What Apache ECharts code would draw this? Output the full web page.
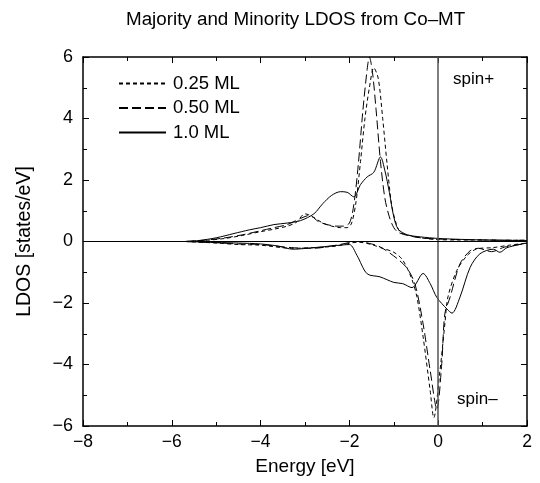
<!DOCTYPE html>
<html>
<head>
<meta charset="utf-8">
<script src="https://cdn.jsdelivr.net/npm/echarts@6/dist/echarts.min.js"></script>
<style>
  html, body { margin: 0; padding: 0; background: #fff; }
  #chart { width: 540px; height: 483px; }
</style>
</head>
<body>
<div id="chart"></div>
<script>
// 能量 (eV) 与 LDOS 数据
const up025 = [
    [-5.7, 0], [-5.2, 0.04], [-4.8, 0.1], [-4.4, 0.2], [-4.0, 0.32], [-3.7, 0.4], [-3.4, 0.5],
    [-3.2, 0.62], [-3.0, 0.9], [-2.8, 0.78], [-2.6, 0.6], [-2.4, 0.5], [-2.2, 0.45], [-2.05, 0.45],
    [-1.95, 0.6], [-1.85, 1.3], [-1.75, 2.6], [-1.65, 4.0], [-1.55, 5.0], [-1.45, 5.65], [-1.35, 5.3],
    [-1.25, 4.0], [-1.15, 2.5], [-1.05, 1.2], [-0.95, 0.6], [-0.85, 0.3], [-0.6, 0.18], [-0.3, 0.1],
    [0, 0.06], [0.5, 0.05], [1.0, 0.05], [1.5, 0.04], [2.0, 0.04]
];
const up050 = [
    [-5.7, 0], [-5.2, 0.05], [-4.8, 0.12], [-4.4, 0.22], [-4.0, 0.35], [-3.7, 0.45], [-3.4, 0.55],
    [-3.1, 0.75], [-2.9, 0.85], [-2.7, 0.65], [-2.5, 0.55], [-2.3, 0.5], [-2.15, 0.5], [-2.0, 0.6],
    [-1.9, 1.2], [-1.8, 2.5], [-1.7, 4.2], [-1.6, 5.6], [-1.55, 6.0], [-1.48, 5.5], [-1.4, 4.3],
    [-1.3, 2.6], [-1.2, 1.4], [-1.1, 0.8], [-1.0, 0.45], [-0.9, 0.3], [-0.7, 0.2], [-0.4, 0.12],
    [0, 0.08], [0.5, 0.06], [1.0, 0.05], [1.5, 0.04], [2.0, 0.04]
];
const up100 = [
    [-5.7, 0], [-5.4, 0.03], [-5.0, 0.12], [-4.6, 0.26], [-4.25, 0.38], [-4.0, 0.45], [-3.7, 0.55],
    [-3.4, 0.6], [-3.1, 0.68], [-2.8, 0.9], [-2.6, 1.23], [-2.4, 1.5], [-2.2, 1.62], [-2.05, 1.6],
    [-1.9, 1.45], [-1.75, 1.85], [-1.6, 2.1], [-1.45, 2.25], [-1.3, 2.75], [-1.2, 2.3], [-1.1, 1.6],
    [-1.0, 0.8], [-0.9, 0.4], [-0.7, 0.22], [-0.4, 0.15], [0, 0.1], [0.5, 0.07], [1.0, 0.05],
    [1.5, 0.04], [2.0, 0.03]
];
const dn025 = [
    [-5.7, 0], [-5.0, -0.05], [-4.5, -0.1], [-4.0, -0.12], [-3.3, -0.22], [-2.8, -0.2], [-2.3, -0.15],
    [-1.8, -0.02], [-1.5, -0.1], [-1.3, -0.2], [-1.0, -0.35], [-0.8, -0.6], [-0.6, -1.2], [-0.48, -1.8],
    [-0.34, -3.1], [-0.18, -4.86], [-0.1, -5.73], [0.04, -4.2], [0.15, -2.68], [0.22, -1.8],
    [0.42, -0.94], [0.65, -0.46], [0.87, -0.24], [1.23, -0.2], [1.6, -0.12], [2.0, -0.05]
];
const dn050 = [
    [-5.7, 0], [-5.0, -0.04], [-4.5, -0.08], [-4.0, -0.1], [-3.3, -0.2], [-2.8, -0.22], [-2.3, -0.12],
    [-1.8, 0], [-1.5, -0.08], [-1.3, -0.18], [-0.93, -0.55], [-0.7, -0.87], [-0.52, -1.4],
    [-0.34, -2.68], [-0.18, -4.2], [-0.03, -5.45], [0.08, -3.97], [0.15, -2.35], [0.27, -1.8],
    [0.49, -0.73], [0.72, -0.3], [0.9, -0.22], [1.2, -0.33], [1.5, -0.18], [2.0, -0.06]
];
const dn100 = [
    [-5.7, 0], [-5.0, -0.03], [-4.5, -0.05], [-4.0, -0.08], [-3.6, -0.15], [-3.27, -0.25], [-2.8, -0.2],
    [-2.3, -0.13], [-2.0, -0.1], [-1.83, -0.45], [-1.6, -1.05], [-1.31, -1.15], [-1.0, -1.33],
    [-0.8, -1.37], [-0.59, -1.5], [-0.34, -1.04], [-0.18, -1.37], [-0.03, -1.82], [0.2, -2.2],
    [0.31, -2.33], [0.49, -1.81], [0.72, -0.84], [0.94, -0.4], [1.24, -0.25], [1.39, -0.35],
    [1.55, -0.2], [2.0, -0.05]
];
const seriesNames = ['0.25 ML', '0.50 ML', '1.0 ML'];
const dashTypes = [[4, 3], [9, 4], 'solid'];

const font = 'Liberation Sans, Arial, sans-serif';
const minus = v => String(v).replace('-', '\u2212');

let series = [];
[[up025, dn025], [up050, dn050], [up100, dn100]].forEach(function(pair, i){
    pair.forEach(function(d){
        series.push({
            type: 'line', name: seriesNames[i], data: d,
            symbol: 'none', smooth: 0.3, animation: false,
            itemStyle: {color: '#000'},
            lineStyle: {color: '#000', width: 1, type: dashTypes[i]}
        });
    });
});
// 零线
series[5].markLine = {
    silent: true, symbol: 'none', label: {show: false}, animation: false,
    data: [
        {xAxis: 0, lineStyle: {color: '#555', width: 1.5, type: 'solid'}},
        {yAxis: 0, lineStyle: {color: '#000', width: 1.2, type: 'solid'}}
    ]
};

function axisCommon(){
    return {
        axisLine: {show: true, onZero: false, lineStyle: {color: '#000', width: 1.5}},
        axisTick: {show: true, inside: true, length: 6, lineStyle: {color: '#000'}},
        minorTick: {show: true, splitNumber: 2, length: 4, lineStyle: {color: '#000'}},
        splitLine: {show: false}
    };
}

let option = {
    backgroundColor: '#fff',
    textStyle: {fontFamily: font},
    title: {
        text: 'Majority and Minority LDOS from Co\u2013MT',
        left: 121, top: 5,
        textStyle: {fontFamily: font, fontWeight: 'normal', fontSize: 18.8, color: '#000'}
    },
    legend: {
        data: seriesNames, orient: 'vertical', left: 113, top: 69,
        itemWidth: 47, itemHeight: 14, itemGap: 5.5,
        itemStyle: {opacity: 0},
        textStyle: {fontFamily: font, fontSize: 18.5, color: '#000', padding: [0, 0, 0, 2]}
    },
    grid: {left: 83, right: 13, top: 57, bottom: 57},
    xAxis: [
        Object.assign(axisCommon(), {
            type: 'value', min: -8, max: 2, interval: 2, position: 'bottom',
            name: 'Energy [eV]', nameLocation: 'middle', nameGap: 31,
            nameTextStyle: {fontFamily: font, fontSize: 19, color: '#000'},
            axisLabel: {fontFamily: font, fontSize: 17.5, color: '#000', margin: 7, formatter: minus}
        }),
        Object.assign(axisCommon(), {
            type: 'value', min: -8, max: 2, interval: 2, position: 'top',
            axisLabel: {show: false}
        })
    ],
    yAxis: [
        Object.assign(axisCommon(), {
            type: 'value', min: -6, max: 6, interval: 2, position: 'left',
            name: 'LDOS [states/eV]', nameLocation: 'middle', nameGap: 48,
            nameTextStyle: {fontFamily: font, fontSize: 19.5, color: '#000'},
            axisLabel: {fontFamily: font, fontSize: 18, color: '#000', margin: 10, formatter: minus}
        }),
        Object.assign(axisCommon(), {
            type: 'value', min: -6, max: 6, interval: 2, position: 'right',
            axisLabel: {show: false}
        })
    ],
    graphic: [
        {type: 'text', left: 453, top: 71, style: {text: 'spin+', font: '17px ' + font, fill: '#000'}},
        {type: 'text', left: 457, top: 391, style: {text: 'spin\u2013', font: '17px ' + font, fill: '#000'}}
    ],
    series: series
};

let chart = echarts.init(document.getElementById('chart'), null, {renderer: 'canvas'});
chart.setOption(option);
</script>
</body>
</html>
